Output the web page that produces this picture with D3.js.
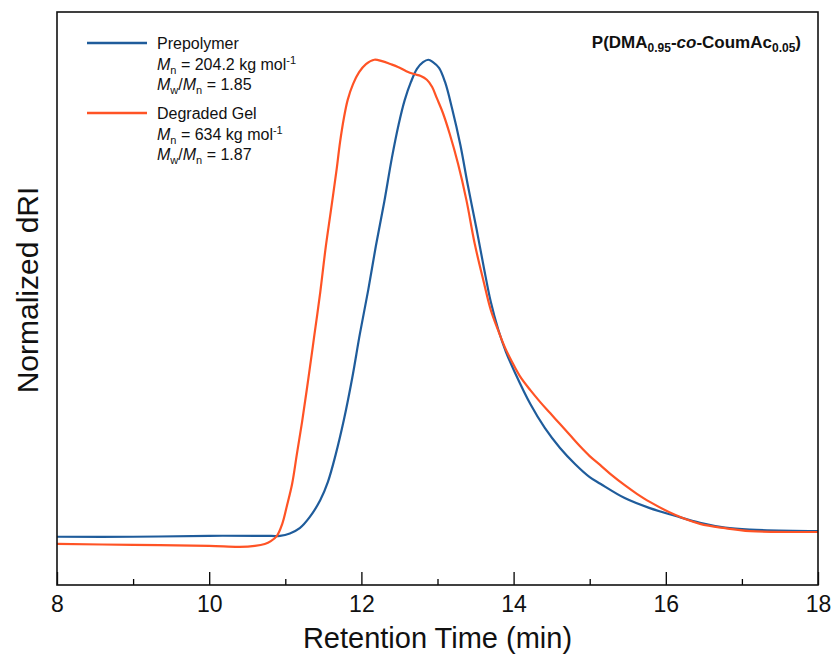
<!DOCTYPE html>
<html>
<head>
<meta charset="utf-8">
<script src="https://cdn.jsdelivr.net/npm/d3@7"></script>
<style>
  html, body { margin: 0; padding: 0; background: #fff; }
  svg { display: block; font-family: "Liberation Sans", Arial, Helvetica, sans-serif; }
</style>
</head>
<body>
<svg id="chart" width="835" height="658"></svg>
<script>
// Retention times (min) and normalized dRI for each trace
const prepolymerTime = [8.00, 9.00, 10.00, 10.73, 10.93, 11.06, 11.19, 11.32, 11.46, 11.56, 11.66, 11.77, 11.88, 11.98, 12.09, 12.19, 12.30, 12.40, 12.49, 12.57, 12.65, 12.73, 12.81, 12.88, 12.94, 13.02, 13.10, 13.19, 13.30, 13.40, 13.51, 13.61, 13.70, 13.80, 13.90, 14.02, 14.22, 14.41, 14.61, 14.81, 15.00, 15.14, 15.46, 15.79, 16.12, 16.45, 16.78, 17.11, 18.00];
const prepolymerSignal = [0.001, 0.001, 0.003, 0.003, 0.003, 0.008, 0.019, 0.042, 0.078, 0.116, 0.172, 0.246, 0.334, 0.426, 0.518, 0.610, 0.702, 0.794, 0.865, 0.916, 0.953, 0.981, 0.995, 1.000, 0.995, 0.983, 0.953, 0.899, 0.822, 0.736, 0.648, 0.564, 0.493, 0.434, 0.388, 0.344, 0.279, 0.229, 0.187, 0.153, 0.126, 0.112, 0.082, 0.061, 0.045, 0.030, 0.020, 0.016, 0.013];

const gelTime = [8.00, 9.00, 10.00, 10.40, 10.60, 10.73, 10.81, 10.89, 10.96, 11.02, 11.09, 11.15, 11.22, 11.30, 11.38, 11.46, 11.53, 11.60, 11.67, 11.72, 11.77, 11.82, 11.89, 11.97, 12.06, 12.17, 12.27, 12.38, 12.48, 12.59, 12.69, 12.78, 12.86, 12.93, 12.99, 13.07, 13.16, 13.27, 13.38, 13.49, 13.61, 13.70, 13.80, 13.89, 13.98, 14.08, 14.22, 14.35, 14.48, 14.61, 14.74, 14.87, 15.00, 15.14, 15.29, 15.46, 15.62, 15.79, 16.12, 16.45, 16.78, 17.11, 18.00];
const gelSignal = [-0.014, -0.016, -0.018, -0.020, -0.018, -0.014, -0.008, 0.003, 0.028, 0.065, 0.112, 0.172, 0.241, 0.329, 0.421, 0.514, 0.606, 0.685, 0.765, 0.828, 0.878, 0.916, 0.949, 0.974, 0.991, 1.000, 0.997, 0.991, 0.985, 0.976, 0.970, 0.966, 0.958, 0.943, 0.920, 0.889, 0.845, 0.782, 0.706, 0.614, 0.533, 0.476, 0.432, 0.396, 0.367, 0.338, 0.308, 0.283, 0.260, 0.237, 0.214, 0.191, 0.170, 0.151, 0.130, 0.109, 0.091, 0.074, 0.047, 0.028, 0.019, 0.013, 0.011];

const xTicks = [8, 10, 12, 14, 16, 18];
const xMinorTicks = [9, 11, 13, 15, 17];

const seriesNames = ["Prepolymer", "Degraded Gel"];
const seriesColors = ["#1f5c9b", "#ff5325"];
const seriesMn = ["204.2", "634"];
const seriesPdi = ["1.85", "1.87"];

const svg = d3.select("#chart");
const plot = { left: 57, right: 818, top: 12, bottom: 585 };

const x = d3.scaleLinear().domain([8, 18]).range([plot.left, plot.right]);
const y = d3.scaleLinear().domain([-0.1, 1.1]).range([plot.bottom, plot.top]);

const series = [
  { name: seriesNames[0], color: seriesColors[0], pts: prepolymerTime.map((t, i) => [t, prepolymerSignal[i]]) },
  { name: seriesNames[1], color: seriesColors[1], pts: gelTime.map((t, i) => [t, gelSignal[i]]) }
];

const line = d3.line()
  .x(d => x(d[0]))
  .y(d => y(d[1]))
  .curve(d3.curveCatmullRom.alpha(0.5));

// traces
svg.append("g")
  .selectAll("path")
  .data(series)
  .join("path")
  .attr("d", d => line(d.pts))
  .attr("fill", "none")
  .attr("stroke", d => d.color)
  .attr("stroke-width", 2.2)
  .attr("stroke-linejoin", "round");

// bottom axis with inward major ticks
const xAxis = d3.axisBottom(x)
  .tickValues(xTicks)
  .tickSize(-13)
  .tickPadding(11)
  .tickFormat(d3.format("d"));

const gx = svg.append("g")
  .attr("transform", `translate(0,${plot.bottom})`)
  .call(xAxis);
gx.select(".domain").remove();
gx.selectAll(".tick line").attr("stroke", "#000").attr("stroke-width", 1.3);
gx.selectAll(".tick text")
  .attr("fill", "#111")
  .style("font-size", "23px");

// minor ticks
const xMinor = d3.axisBottom(x)
  .tickValues(xMinorTicks)
  .tickSize(-6)
  .tickFormat("");
const gm = svg.append("g")
  .attr("transform", `translate(0,${plot.bottom})`)
  .call(xMinor);
gm.select(".domain").remove();
gm.selectAll(".tick line").attr("stroke", "#000").attr("stroke-width", 1.3);

// frame
svg.append("rect")
  .attr("x", plot.left)
  .attr("y", plot.top)
  .attr("width", plot.right - plot.left)
  .attr("height", plot.bottom - plot.top)
  .attr("fill", "none")
  .attr("stroke", "#111")
  .attr("stroke-width", 1.6);

// axis titles
svg.append("text")
  .attr("x", (plot.left + plot.right) / 2)
  .attr("y", 648)
  .attr("text-anchor", "middle")
  .style("font-size", "29px")
  .attr("fill", "#111")
  .text("Retention Time (min)");

svg.append("text")
  .attr("transform", `translate(38,290) rotate(-90)`)
  .attr("text-anchor", "middle")
  .style("font-size", "30px")
  .attr("fill", "#111")
  .text("Normalized dRI");

// sample label, top right
const title = svg.append("text")
  .attr("x", 801)
  .attr("y", 48)
  .attr("text-anchor", "end")
  .style("font-size", "17px")
  .style("font-weight", "bold")
  .attr("fill", "#111");
title.append("tspan").text("P(DMA");
title.append("tspan").attr("dy", 4).style("font-size", "12px").text("0.95");
title.append("tspan").attr("dy", -4).text("-");
title.append("tspan").style("font-style", "italic").text("co");
title.append("tspan").text("-CoumAc");
title.append("tspan").attr("dy", 4).style("font-size", "12px").text("0.05");
title.append("tspan").attr("dy", -4).text(")");

// legend
const legendTop = [43, 113];
const legend = svg.append("g");
series.forEach((s, i) => {
  const g = legend.append("g").attr("transform", `translate(0,${legendTop[i]})`);
  g.append("line")
    .attr("x1", 87).attr("x2", 147)
    .attr("y1", 0).attr("y2", 0)
    .attr("stroke", s.color)
    .attr("stroke-width", 2.4);

  const tx = 157;
  g.append("text")
    .attr("x", tx).attr("y", 6)
    .style("font-size", "16px").attr("fill", "#111")
    .text(s.name);

  const mn = g.append("text")
    .attr("x", tx).attr("y", 27)
    .style("font-size", "16px").attr("fill", "#111");
  mn.append("tspan").style("font-style", "italic").text("M");
  mn.append("tspan").attr("dy", 4).style("font-size", "11px").text("n");
  mn.append("tspan").attr("dy", -4).text(` = ${seriesMn[i]} kg mol`);
  mn.append("tspan").attr("dy", -6).style("font-size", "11px").text("-1");

  const pdi = g.append("text")
    .attr("x", tx).attr("y", 47)
    .style("font-size", "16px").attr("fill", "#111");
  pdi.append("tspan").style("font-style", "italic").text("M");
  pdi.append("tspan").attr("dy", 4).style("font-size", "11px").text("w");
  pdi.append("tspan").attr("dy", -4).text("/");
  pdi.append("tspan").style("font-style", "italic").text("M");
  pdi.append("tspan").attr("dy", 4).style("font-size", "11px").text("n");
  pdi.append("tspan").attr("dy", -4).text(` = ${seriesPdi[i]}`);
});
</script>
</body>
</html>
